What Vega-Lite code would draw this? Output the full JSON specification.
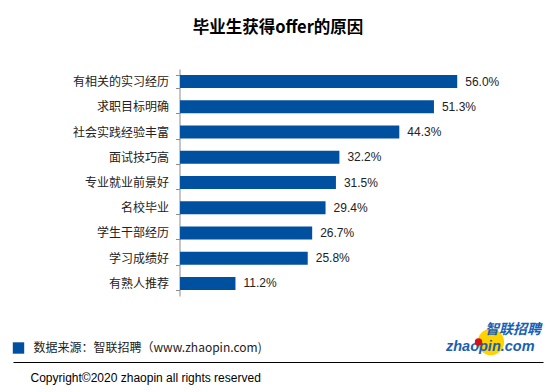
{
  "$schema": "https://vega.github.io/schema/vega-lite/v6.json",
  "autosize": {"type": "none"},
  "width": 530,
  "height": 227,
  "padding": {"left": 13, "top": 69, "right": 12, "bottom": 96},
  "background": "white",
  "title": {
    "text": "毕业生获得offer的原因",
    "anchor": "middle",
    "frame": "group",
    "font": "Noto Sans CJK SC",
    "fontSize": 16.5,
    "fontWeight": "bold",
    "color": "#000000",
    "offset": 27
  },
  "config": {
    "view": {"stroke": null},
    "legend": {
      "orient": "none",
      "legendX": -0.5,
      "legendY": 273,
      "padding": 0,
      "symbolType": "square",
      "symbolSize": 130,
      "symbolStrokeWidth": 0,
      "labelFont": "Noto Sans CJK SC",
      "labelFontSize": 12,
      "labelColor": "#222222",
      "labelOffset": 9,
      "labelLimit": 0
    }
  },
  "data": {
    "values": [
      {"reason": "有相关的实习经历", "share": 0.560},
      {"reason": "求职目标明确", "share": 0.513},
      {"reason": "社会实践经验丰富", "share": 0.443},
      {"reason": "面试技巧高", "share": 0.322},
      {"reason": "专业就业前景好", "share": 0.315},
      {"reason": "名校毕业", "share": 0.294},
      {"reason": "学生干部经历", "share": 0.267},
      {"reason": "学习成绩好", "share": 0.258},
      {"reason": "有熟人推荐", "share": 0.112}
    ]
  },
  "resolve": {"scale": {"y": "independent"}},
  "layer": [
    {
      "encoding": {
        "y": {
          "field": "reason",
          "type": "nominal",
          "sort": null,
          "scale": {"paddingInner": 0.484, "paddingOuter": 0.242},
          "axis": {
            "title": null,
            "orient": "left",
            "offset": -166.5,
            "domainColor": "#8c8c8c",
            "tickColor": "#8c8c8c",
            "tickSize": 4,
            "tickBand": "extent",
            "labelPadding": 7,
            "labelFont": "Noto Sans CJK SC",
            "labelFontSize": 12,
            "labelColor": "#222222",
            "grid": false
          }
        },
        "x": {
          "field": "share",
          "type": "quantitative",
          "scale": {"domain": [-0.3374, 0.7333], "nice": false, "zero": false},
          "axis": {
            "orient": "bottom",
            "offset": 66,
            "domain": true,
            "domainColor": "#000000",
            "domainWidth": 1,
            "ticks": false,
            "labels": false,
            "grid": false,
            "title": "Copyright©2020 zhaopin all rights reserved",
            "titleAnchor": "start",
            "titleAlign": "left",
            "titleBaseline": "middle",
            "titleX": 17,
            "titleY": 15,
            "titleFont": "Liberation Sans",
            "titleFontSize": 12,
            "titleFontWeight": "normal",
            "titleColor": "#000000"
          }
        }
      },
      "layer": [
        {
          "mark": {"type": "bar"},
          "encoding": {
            "x2": {"datum": 0},
            "color": {
              "datum": "数据来源：智联招聘（www.zhaopin.com)",
              "type": "nominal",
              "scale": {"range": ["#0050a0"]},
              "legend": {"title": null}
            }
          }
        },
        {
          "mark": {
            "type": "text",
            "align": "left",
            "baseline": "middle",
            "dx": 8,
            "font": "Liberation Sans",
            "fontSize": 12,
            "color": "#222222"
          },
          "encoding": {
            "text": {"field": "share", "type": "quantitative", "format": ".1%"}
          }
        }
      ]
    },
    {
      "data": {"values": [{"logo": "zhaopin.com", "cn": "智联招聘"}]},
      "encoding": {
        "y": {"datum": 0, "type": "quantitative", "scale": {"domain": [0, 1]}, "axis": null}
      },
      "layer": [
        {
          "mark": {"type": "point", "filled": true, "shape": "circle", "size": 700, "color": "#ffd200", "opacity": 1},
          "encoding": {
            "x": {"datum": 0.628, "type": "quantitative"},
            "y": {"datum": -0.2026, "type": "quantitative"}
          }
        },
        {
          "mark": {"type": "text", "align": "left", "baseline": "alphabetic", "font": "Liberation Sans", "fontSize": 14.5, "fontWeight": "bold", "fontStyle": "italic", "color": "#1a5fb4"},
          "encoding": {
            "x": {"datum": 0.5373, "type": "quantitative"},
            "y": {"datum": -0.2423, "type": "quantitative"},
            "text": {"field": "logo"}
          }
        },
        {
          "mark": {"type": "point", "filled": true, "shape": "circle", "size": 55, "color": "#d0141e", "opacity": 1},
          "encoding": {
            "x": {"datum": 0.603, "type": "quantitative"},
            "y": {"datum": -0.2026, "type": "quantitative"}
          }
        },
        {
          "mark": {"type": "text", "align": "left", "baseline": "middle", "font": "Noto Sans CJK SC", "fontSize": 14, "fontWeight": "bold", "fontStyle": "italic", "color": "#1a5fb4"},
          "encoding": {
            "x": {"datum": 0.6161, "type": "quantitative"},
            "y": {"datum": -0.1498, "type": "quantitative"},
            "text": {"field": "cn"}
          }
        }
      ]
    }
  ]
}
